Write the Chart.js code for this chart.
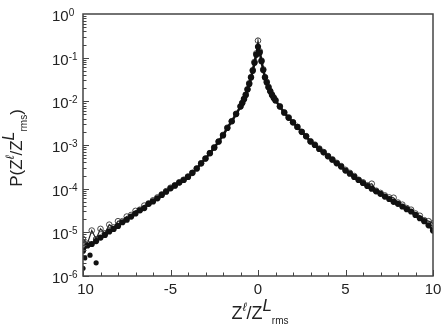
<!DOCTYPE html>
<html>
<head>
<meta charset="utf-8">
<script src="https://cdn.jsdelivr.net/npm/chart.js@4.4.1/dist/chart.umd.min.js"></script>
<style>
  html, body { margin: 0; padding: 0; background: #fff; }
  canvas { display: block; }
</style>
</head>
<body>
<canvas id="pdf" width="443" height="333"></canvas>
<script>
// x positions (Z / Z_rms)
const xs = [
  -10, -9.75, -9.5, -9.25, -9, -8.75, -8.5, -8.25, -8, -7.75, -7.5, -7.25, -7,
  -6.75, -6.5, -6.25, -6, -5.75, -5.5, -5.25, -5, -4.75, -4.5, -4.25, -4,
  -3.75, -3.5, -3.25, -3, -2.75, -2.5, -2.25, -2, -1.75, -1.5, -1.25, -1,
  -0.9, -0.8, -0.7, -0.6, -0.5, -0.4, -0.3, -0.2, -0.1, 0,
  0.1, 0.2, 0.3, 0.4, 0.5, 0.6, 0.7, 0.8, 0.9,
  1, 1.25, 1.5, 1.75, 2, 2.25, 2.5, 2.75, 3, 3.25, 3.5, 3.75, 4,
  4.25, 4.5, 4.75, 5, 5.25, 5.5, 5.75, 6, 6.25, 6.5, 6.75, 7,
  7.25, 7.5, 7.75, 8, 8.25, 8.5, 8.75, 9, 9.25, 9.5, 9.75, 10
];
// filled circles
const pFilled = [
  3.8e-6, 5.0e-6, 5.4e-6, 6.3e-6, 7.6e-6, 8.7e-6, 1.05e-5, 1.2e-5, 1.4e-5, 1.7e-5, 1.95e-5, 2.3e-5, 2.7e-5,
  3.2e-5, 3.6e-5, 4.5e-5, 5.1e-5, 6.0e-5, 7.2e-5, 8.5e-5, 1.02e-4, 1.17e-4, 1.38e-4, 1.58e-4, 1.86e-4,
  2.3e-4, 2.9e-4, 3.8e-4, 4.9e-4, 6.5e-4, 8.7e-4, 1.2e-3, 1.66e-3, 2.45e-3, 3.5e-3, 5.1e-3, 7.6e-3,
  9.1e-3, 1.12e-2, 1.4e-2, 1.86e-2, 2.5e-2, 3.5e-2, 5.0e-2, 7.6e-2, 0.117, 0.178,
  0.132, 0.083, 0.052, 0.035, 0.027, 0.021, 0.017, 0.014, 0.012,
  1.05e-2, 7.6e-3, 5.5e-3, 4.2e-3, 3.3e-3, 2.6e-3, 2.0e-3, 1.58e-3, 1.2e-3, 1.0e-3, 8.1e-4, 6.8e-4, 5.5e-4,
  4.6e-4, 3.8e-4, 3.2e-4, 2.6e-4, 2.2e-4, 1.86e-4, 1.58e-4, 1.35e-4, 1.15e-4, 1.0e-4, 8.7e-5, 7.6e-5,
  6.6e-5, 5.8e-5, 5.0e-5, 4.5e-5, 3.9e-5, 3.4e-5, 3.0e-5, 2.5e-5, 2.1e-5, 1.8e-5, 1.45e-5, 1.1e-5
];
// open circles (with the solid line)
const pOpen = [
  7.0e-6, 5.5e-6, 1.1e-5, 7.0e-6, 1.2e-5, 9.5e-6, 1.5e-5, 1.3e-5, 1.8e-5, 1.8e-5, 2.3e-5, 2.5e-5, 3.1e-5,
  3.3e-5, 4.1e-5, 4.6e-5, 5.4e-5, 6.3e-5, 7.4e-5, 8.8e-5, 1.05e-4, 1.2e-4, 1.4e-4, 1.6e-4, 1.9e-4,
  2.3e-4, 2.9e-4, 3.8e-4, 4.9e-4, 6.5e-4, 8.8e-4, 1.2e-3, 1.7e-3, 2.5e-3, 3.5e-3, 5.2e-3, 7.7e-3,
  9.2e-3, 0.0114, 0.0142, 0.019, 0.026, 0.036, 0.052, 0.08, 0.125, 0.245,
  0.14, 0.086, 0.054, 0.036, 0.028, 0.0215, 0.0172, 0.0142, 0.0122,
  1.06e-2, 7.7e-3, 5.6e-3, 4.3e-3, 3.3e-3, 2.6e-3, 2.0e-3, 1.6e-3, 1.22e-3, 1.02e-3, 8.3e-4, 6.9e-4, 5.6e-4,
  4.7e-4, 3.9e-4, 3.3e-4, 2.7e-4, 2.3e-4, 1.95e-4, 1.6e-4, 1.4e-4, 1.2e-4, 1.3e-4, 9.0e-5, 8.0e-5,
  7.0e-5, 6.3e-5, 6.2e-5, 4.8e-5, 4.3e-5, 3.6e-5, 3.3e-5, 2.7e-5, 2.4e-5, 1.9e-5, 1.8e-5, 1.6e-5
];
// stray filled points in the left tail
const outlierX = [-10, -9.25, -9.9, -9.6];
const outlierP = [1.5e-6, 2.0e-6, 2.6e-6, 3.0e-6];

const xTicks = [-10, -5, 0, 5, 10];
const xTickLabels = ['10', '-5', '0', '5', '10'];
const yTicks = [1, 1e-1, 1e-2, 1e-3, 1e-4, 1e-5, 1e-6];
const yTickExp = ['0', '-1', '-2', '-3', '-4', '-5', '-6'];

const FONT = '"Liberation Sans", Arial, Helvetica, sans-serif';
const INK = '#222';

function setFont(ctx, s) {
  ctx.font = (s.italic ? 'italic ' : '') + s.size + 'px ' + FONT;
}
function richWidth(ctx, segs) {
  let w = 0;
  segs.forEach(s => { setFont(ctx, s); w += ctx.measureText(s.t).width + (s.gap || 0); });
  return w;
}
function drawRich(ctx, segs, x, y) {
  segs.forEach(s => {
    setFont(ctx, s);
    ctx.fillText(s.t, x, y + (s.dy || 0));
    x += ctx.measureText(s.t).width + (s.gap || 0);
  });
}

// axes box, inward ticks, tick labels and titles
const axesPlugin = {
  id: 'axesPlugin',
  afterDraw(chart) {
    const { ctx, chartArea: a, scales } = chart;
    const sx = scales.x, sy = scales.y;
    ctx.save();
    ctx.strokeStyle = '#444';
    ctx.lineWidth = 1.5;
    ctx.strokeRect(a.left, a.top, a.right - a.left, a.bottom - a.top);

    ctx.lineWidth = 1;
    ctx.beginPath();
    for (let v = -10; v <= 10; v++) {
      const px = Math.round(sx.getPixelForValue(v)) + 0.5;
      const len = (v % 5 === 0) ? 6 : 3.5;
      ctx.moveTo(px, a.bottom);
      ctx.lineTo(px, a.bottom - len);
    }
    for (let e = -6; e < 0; e++) {
      for (let m = 1; m <= 9; m++) {
        const v = m * Math.pow(10, e);
        const py = Math.round(sy.getPixelForValue(v)) + 0.5;
        const len = (m === 1) ? 6 : 3.5;
        ctx.moveTo(a.left, py);
        ctx.lineTo(a.left + len, py);
      }
    }
    ctx.stroke();

    ctx.fillStyle = INK;
    ctx.textBaseline = 'alphabetic';
    // x tick labels (placed as if the full number were printed)
    ctx.font = '15px ' + FONT;
    xTicks.forEach((v, i) => {
      const px = sx.getPixelForValue(v);
      const half = ctx.measureText(String(v)).width / 2;
      ctx.textAlign = 'right';
      ctx.fillText(xTickLabels[i], px + half, a.bottom + 18);
    });
    // y tick labels 10^n
    ctx.textAlign = 'left';
    yTicks.forEach((v, i) => {
      const py = sy.getPixelForValue(v);
      drawRich(ctx, [
        { t: '10', size: 15 },
        { t: yTickExp[i], size: 10, dy: -5 }
      ], 52, py + 7);
    });

    // x title
    const xt = [
      { t: 'Z', size: 18 },
      { t: 'ℓ', size: 12, dy: -8, italic: true },
      { t: '/Z', size: 18 },
      { t: 'L', size: 17, dy: -8, italic: true },
      { t: 'rms', size: 10, dy: 5 }
    ];
    const xw = richWidth(ctx, xt);
    drawRich(ctx, xt, 260 - xw / 2, 319);

    // y title (rotated)
    const yt = [
      { t: 'P(Z', size: 17 },
      { t: 'ℓ', size: 12, dy: -8, italic: true },
      { t: '/Z', size: 17 },
      { t: 'L', size: 16, dy: -8, italic: true },
      { t: 'rms', size: 10, dy: 5 },
      { t: ')', size: 17 }
    ];
    const yw = richWidth(ctx, yt);
    ctx.translate(22, 148);
    ctx.rotate(-Math.PI / 2);
    drawRich(ctx, yt, -yw / 2, 0);
    ctx.restore();
  }
};

new Chart(document.getElementById('pdf').getContext('2d'), {
  type: 'scatter',
  data: {
    datasets: [
      {
        label: 'filled',
        data: xs.map((x, i) => ({ x: x, y: pFilled[i] })),
        pointRadius: 3.1,
        pointBackgroundColor: '#111',
        pointBorderColor: '#111',
        pointBorderWidth: 0,
        showLine: true,
        borderColor: '#111',
        borderWidth: 2.5
      },
      {
        label: 'filled tail',
        data: outlierX.map((x, i) => ({ x: x, y: outlierP[i] })),
        pointRadius: 2.6,
        pointBackgroundColor: '#111',
        pointBorderColor: '#111',
        pointBorderWidth: 0,
        showLine: false
      },
      {
        label: 'open',
        data: xs.map((x, i) => ({ x: x, y: pOpen[i] })),
        pointRadius: 2.8,
        pointBackgroundColor: 'rgba(255,255,255,0)',
        pointBorderColor: '#333',
        pointBorderWidth: 0.9,
        showLine: true,
        borderColor: '#222',
        borderWidth: 1.2,
        tension: 0
      }
    ]
  },
  options: {
    responsive: false,
    animation: false,
    devicePixelRatio: 1,
    layout: { padding: { left: 83, right: 10, top: 14, bottom: 57 } },
    scales: {
      x: { type: 'linear', min: -10, max: 10, display: false },
      y: { type: 'logarithmic', min: 1e-6, max: 1, display: false }
    },
    plugins: {
      legend: { display: false },
      tooltip: { enabled: false }
    }
  },
  plugins: [axesPlugin]
});
</script>
</body>
</html>
